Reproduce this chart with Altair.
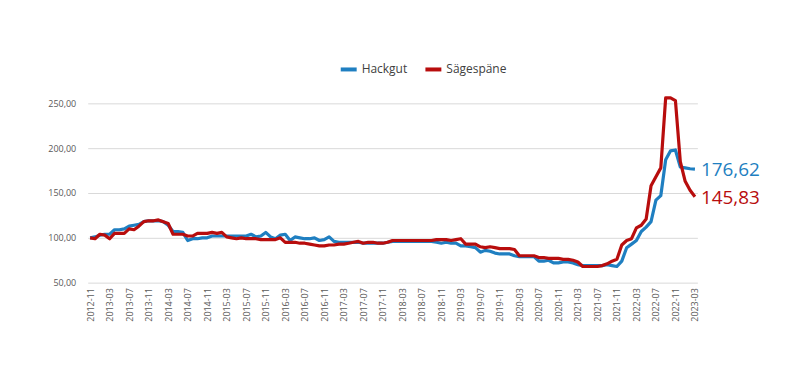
import altair as alt
import pandas as pd

# Monthly index from 2012-11 to 2023-03
months = [f"{y}-{m:02d}" for y in range(2012, 2024) for m in range(1, 13)]
months = [m for m in months if "2012-11" <= m <= "2023-03"]

hackgut = [
    100, 101, 103, 104, 104, 109, 109, 110, 113, 114, 115, 118, 119, 119, 119, 118,
    114, 107, 107, 106, 97, 99, 99, 100, 100, 102, 102, 102, 102, 102, 102, 102,
    102, 104, 101, 102, 106, 101, 99, 103, 104, 97, 101, 100, 99, 99, 100, 97,
    98, 101, 96, 95, 95, 95, 95, 95, 94, 94, 94, 94, 94, 95, 96, 96,
    96, 96, 96, 96, 96, 96, 96, 95, 94, 95, 94, 94, 91, 91, 90, 89,
    84, 86, 85, 83, 82, 82, 82, 80, 79, 79, 79, 79, 74, 74, 75, 72,
    72, 73, 73, 72, 70, 69, 69, 69, 69, 69, 70, 69, 68, 74, 89, 93,
    97, 107, 112, 118, 142, 147, 187, 197, 198, 179, 178, 177, 176.62,
]

saegespaene = [
    100, 99, 104, 103, 99, 105, 105, 105, 110, 109, 113, 118, 119, 119, 120, 118,
    116, 104, 104, 104, 102, 102, 105, 105, 105, 106, 105, 106, 101, 100, 99, 100,
    99, 99, 99, 98, 98, 98, 98, 100, 95, 95, 95, 94, 94, 93, 92, 91,
    91, 92, 92, 93, 93, 94, 95, 96, 94, 95, 95, 94, 94, 95, 97, 97,
    97, 97, 97, 97, 97, 97, 97, 98, 98, 98, 97, 98, 99, 93, 93, 93,
    90, 89, 90, 89, 88, 88, 88, 87, 80, 80, 80, 80, 78, 78, 77, 77,
    77, 76, 76, 75, 73, 68, 68, 68, 68, 69, 71, 74, 76, 92, 97, 99,
    111, 114, 121, 158, 168, 178, 256, 256, 253, 185, 163, 153, 145.83,
]

series_names = ["Hackgut", "Sägespäne"]
series_colors = ["#1f7fc1", "#b80d0d"]
y_ticks = [50, 100, 150, 200, 250]
x_ticks = months[::4]

df = pd.DataFrame(
    {
        "Monat": months * 2,
        "Wert": hackgut + saegespaene,
        "Serie": [series_names[0]] * len(months) + [series_names[1]] * len(months),
    }
)
last = pd.DataFrame(
    {
        "Monat": [months[-1], months[-1]],
        "Wert": [hackgut[-1], saegespaene[-1]],
        "Serie": series_names,
    }
)

FONT = "Open Sans"

x_enc = alt.X(
    "Monat:O",
    sort=months,
    scale=alt.Scale(type="point", padding=0.5),
    axis=alt.Axis(
        values=x_ticks,
        labelAngle=-90,
        labelFontSize=9,
        labelColor="#595959",
        labelFont=FONT,
        ticks=False,
        domain=False,
        grid=False,
        title=None,
        labelPadding=5,
    ),
)
y_scale = alt.Scale(domain=[50, 260], nice=False, zero=False)
color_scale = alt.Scale(domain=series_names, range=series_colors)

lines = alt.Chart(df).mark_line(strokeWidth=3.2, strokeJoin="round").encode(
    x=x_enc,
    y=alt.Y(
        "Wert:Q",
        scale=y_scale,
        axis=alt.Axis(
            values=y_ticks,
            labelExpr="replace(format(datum.value, '.2f'), '.', ',')",
            labelFontSize=9,
            labelColor="#595959",
            labelFont=FONT,
            ticks=False,
            domain=False,
            gridColor="#d9d9d9",
            gridWidth=1,
            title=None,
            labelPadding=12,
        ),
    ),
    color=alt.Color(
        "Serie:N",
        scale=color_scale,
        legend=alt.Legend(
            title=None,
            orient="none",
            direction="horizontal",
            legendX=252,
            legendY=-35,
            symbolType="stroke",
            symbolStrokeWidth=4,
            symbolSize=256,
            labelFontSize=12,
            labelFont=FONT,
            labelColor="#404040",
            columnPadding=10,
            labelOffset=3,
        ),
    ),
)

labels = alt.Chart(last).transform_calculate(
    txt="replace(format(datum.Wert, '.2f'), '.', ',')"
).mark_text(align="left", baseline="middle", dx=6, dy=1, fontSize=19, font=FONT).encode(
    x=alt.X("Monat:O", sort=months, scale=alt.Scale(type="point", padding=0.5)),
    y=alt.Y("Wert:Q", scale=y_scale),
    text="txt:N",
    color=alt.Color("Serie:N", scale=color_scale, legend=None),
)

chart = (
    alt.layer(lines, labels)
    .properties(
        width=612,
        height=189,
        autosize=alt.AutoSizeParams(type="none"),
        padding={"left": 80, "top": 86, "right": 100, "bottom": 90},
        background="white",
    )
    .configure_view(stroke=None)
)

chart.save("out.html", embed_options={"renderer": "svg", "actions": False})
